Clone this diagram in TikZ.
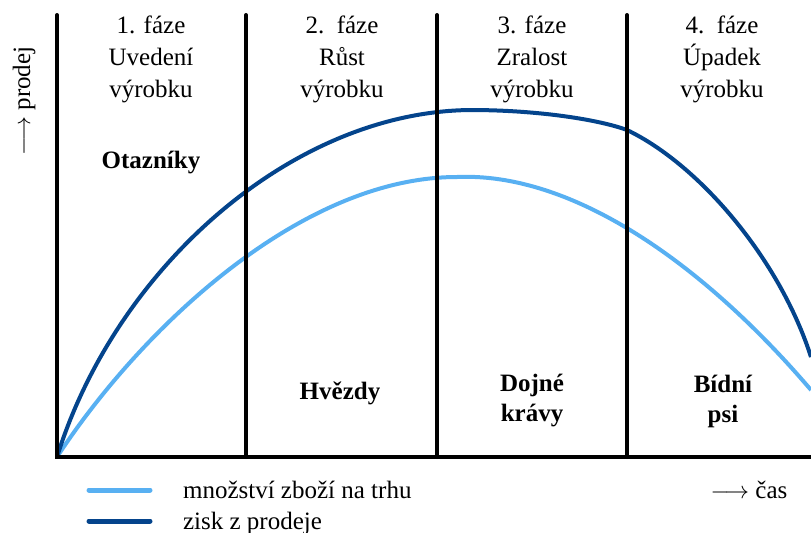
\documentclass[tikz,border=0pt]{standalone}
\usepackage{fontspec}
\setmainfont{Liberation Serif}
\usepackage{tikz}
\usetikzlibrary{positioning}
\definecolor{tmavamodra}{RGB}{4,68,140}
\definecolor{svetlamodra}{RGB}{88,176,242}

\begin{document}
\begin{tikzpicture}[x=0.5pt, y=-0.5pt,
			osa/.style={line width=2pt, line cap=round},   %Achsen und Grenzen
			krivka/.style={line width=2pt},
			faze/.style={align=center, font=\fontsize{12.5}{16}\selectfont},
			kvadrant/.style={align=center, font=\fontsize{12.5}{15}\selectfont\bfseries}]
			\useasboundingbox (0,0) rectangle (811,532);
			% Punkte
			\coordinate (O) at (57,457);
			\coordinate (ytop) at (57,15);
			\coordinate (xend) at (811,457);
			%Kurven zeichnen
			\draw[krivka, svetlamodra] (O) .. controls (140,330) and (300,177) .. (457,177)
				.. controls (570,172) and (700,260) .. (811,390);
			\draw[krivka, tmavamodra] (O) .. controls (115,270) and (290,112) .. (470,110)
				.. controls (540,110) and (600,120) .. (627,130)
				.. controls (700,165) and (780,260) .. (811,357);
			% Achsen zeichnen
			\draw[osa] (ytop) -- (O) -- (xend);
			% Phasengrenzen
			\foreach \x/\n in {246/1,437/2,627/3} {
				\coordinate (h\n) at (\x,15);
				\coordinate (d\n) at (\x,457);
				\draw[osa] (h\n) -- (d\n);
			}
			% Phasen beschriften
			\node[faze] (f1) at (151,59) {1. fáze\\Uvedení\\výrobku};
			\node[faze] (f2) at (342,59) {2.\ \ fáze\\Růst\\výrobku};
			\node[faze] (f3) at (532,59) {3. fáze\\Zralost\\výrobku};
			\node[faze] (f4) at (722,59) {4.\ \ fáze\\Úpadek\\výrobku};
			% Felder
			\node[kvadrant] (otazniky) at (151,163) {Otazníky};
			\node[kvadrant] (hvezdy) at (340,393) {Hvězdy};
			\node[kvadrant] (dojne) at (532,401) {Dojné\\krávy};
			\node[kvadrant] (bidni) at (723,401) {Bídní\\psi};
			% Achsen beschriften
			\node[faze, rotate=90] (prodej) at (24,101) {$\longrightarrow$ prodej};
			\node[faze] (cas) at (749,490) {$\longrightarrow$ čas};
			%Legende
			\coordinate (l1a) at (89,490);
			\coordinate (l1b) at (150,490);
			\coordinate (l2a) at (89,521);
			\coordinate (l2b) at (150,521);
			\draw[svetlamodra, line width=2.5pt, line cap=round] (l1a) -- (l1b);
			\draw[tmavamodra, line width=2.5pt, line cap=round] (l2a) -- (l2b);
			\node[faze, anchor=west] (leg1) at (176,490) {množství zboží na trhu};
			\node[faze, anchor=west] (leg2) at (176,523) {zisk z prodeje};
		\end{tikzpicture}
\end{document}
